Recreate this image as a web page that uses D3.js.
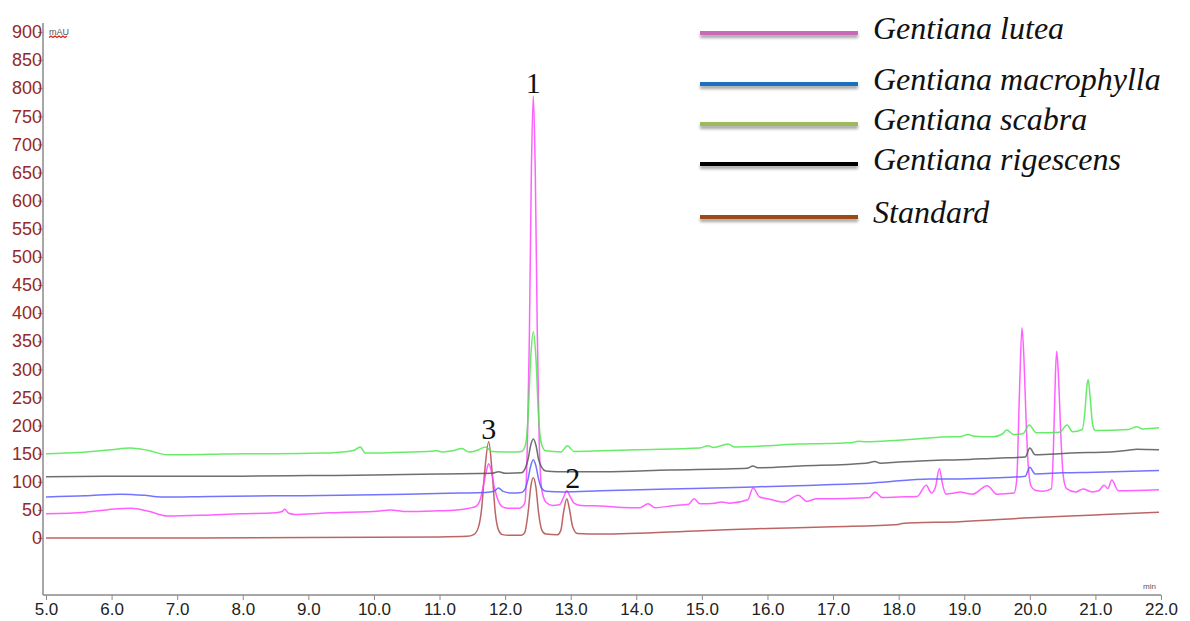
<!DOCTYPE html>
<html>
<head>
<meta charset="utf-8">
<script src="https://cdn.jsdelivr.net/npm/d3@7"></script>
<style>
body { margin: 0; background: #fff; }
</style>
</head>
<body>
<script>
// retention time (min) / absorbance (mAU)
const luteaPts = [[5.0,43],[5.6,46],[6.1,52],[6.3,53],[6.55,48],[6.85,39],[7.5,41],[7.96,43],[8.5,45],[8.6,47],[8.64,51],[8.7,44],[8.8,42],[9.2,44],[9.6,46],[10.0,47],[10.25,50],[10.5,47],[10.9,48],[11.27,50],[11.45,53],[11.55,56],[11.62,68],[11.68,100],[11.72,122],[11.75,132],[11.79,118],[11.84,88],[11.9,65],[11.97,55],[12.05,53],[12.22,53],[12.3,62],[12.34,170],[12.37,360],[12.40,650],[12.43,786],[12.46,650],[12.49,370],[12.52,170],[12.56,85],[12.62,64],[12.72,58],[12.83,59],[12.89,72],[12.94,84],[12.99,74],[13.05,62],[13.15,58],[13.45,57],[13.9,54],[14.06,54],[14.18,61],[14.28,54],[14.6,58],[14.8,60],[14.88,70],[14.97,61],[15.2,62],[15.3,64],[15.42,62],[15.7,68],[15.78,89],[15.88,73],[16.0,70],[16.25,64],[16.47,76],[16.6,65],[16.75,70],[17.0,70],[17.4,71],[17.55,72],[17.64,82],[17.75,72],[18.0,73],[18.28,74],[18.42,94],[18.5,80],[18.56,90],[18.62,123],[18.67,95],[18.72,78],[18.85,80],[18.94,82],[19.05,79],[19.13,78],[19.35,93],[19.5,78],[19.76,80],[19.8,103],[19.84,250],[19.88,374],[19.91,320],[19.94,220],[19.97,139],[20.02,92],[20.08,85],[20.2,83],[20.33,88],[20.36,160],[20.39,290],[20.41,332],[20.44,280],[20.47,190],[20.51,110],[20.56,88],[20.7,82],[20.81,87],[20.95,82],[21.05,84],[21.13,94],[21.19,88],[21.25,103],[21.35,84],[21.97,86]];

const macrophyllaPts = [[5.0,73],[5.6,75],[6.13,78],[6.5,76],[6.75,73],[7.5,74],[8.5,75],[9.5,76],[10.5,78],[11.3,80],[11.7,81],[11.83,83],[11.9,89],[11.97,83],[12.1,80],[12.25,81],[12.3,86],[12.35,105],[12.39,128],[12.43,139],[12.47,128],[12.51,105],[12.56,88],[12.62,83],[12.9,82],[13.45,84],[14.5,87],[15.5,90],[16.45,93],[17.0,95],[17.61,98],[18.48,105],[18.93,105],[19.5,107],[19.93,110],[20.0,126],[20.08,114],[20.5,116],[21.0,117],[21.97,120]];

const scabraPts = [[5.0,150],[5.5,152],[6.0,157],[6.28,160],[6.55,156],[6.85,148],[7.5,149],[8.0,150],[8.5,150],[9.22,151],[9.6,154],[9.7,156],[9.79,162],[9.87,151],[10.3,152],[10.8,154],[10.96,155],[11.05,153],[11.2,155],[11.34,159],[11.45,153],[11.6,157],[11.7,162],[11.8,154],[12.1,153],[12.25,154],[12.31,165],[12.35,215],[12.39,320],[12.43,367],[12.47,320],[12.51,215],[12.56,165],[12.62,155],[12.85,153],[12.95,164],[13.05,154],[13.45,155],[14.0,157],[14.97,160],[15.09,164],[15.18,161],[15.4,167],[15.5,162],[16.0,164],[16.45,167],[16.9,168],[17.3,170],[17.38,172],[17.5,171],[18.0,174],[18.28,176],[18.8,180],[18.93,180],[19.06,184],[19.15,181],[19.44,180],[19.58,185],[19.65,192],[19.75,184],[19.9,186],[19.99,201],[20.1,187],[20.45,188],[20.57,201],[20.65,189],[20.8,193],[20.84,225],[20.87,270],[20.89,282],[20.92,250],[20.96,200],[21.0,191],[21.5,193],[21.63,198],[21.72,194],[21.97,196]];

const rigescensPts = [[5.0,109],[6.0,110],[7.0,110],[8.0,110],[9.0,111],[10.0,112],[11.0,114],[11.8,115],[11.9,118],[12.0,115],[12.25,116],[12.3,122],[12.35,140],[12.39,165],[12.43,176],[12.47,165],[12.51,140],[12.56,125],[12.62,119],[12.8,118],[13.5,118],[14.5,121],[15.69,124],[15.78,128],[15.85,125],[16.5,128],[17.5,133],[17.64,136],[17.72,133],[18.0,135],[18.5,138],[18.93,139],[19.5,142],[19.93,144],[20.0,160],[20.08,148],[20.3,149],[20.89,152],[21.0,152],[21.5,156],[21.63,158],[21.97,157]];

const standardPts = [[5.0,0],[7.0,0],[9.0,1],[11.0,2],[11.42,3],[11.52,6],[11.59,18],[11.64,50],[11.69,120],[11.75,171],[11.8,120],[11.85,45],[11.9,14],[11.96,6],[12.05,5],[12.25,5],[12.3,10],[12.35,45],[12.39,90],[12.43,107],[12.47,90],[12.51,45],[12.56,14],[12.62,7],[12.8,6],[12.85,14],[12.89,45],[12.94,70],[12.98,52],[13.03,20],[13.1,8],[13.45,7],[15.0,13],[16.0,17],[17.0,20],[18.0,24],[18.05,26],[18.93,29],[20.0,36],[21.0,41],[21.97,46]];

const seriesNames = ["Gentiana lutea", "Gentiana macrophylla", "Gentiana scabra", "Gentiana rigescens", "Standard"];
const traceColors = ["#ff44ff", "#5a5aff", "#4ee84e", "#555555", "#b04a4a"];
const legendColors = ["#c86bb8", "#1a70c0", "#9bbb59", "#000000", "#9b4a12"];

const xTicks = d3.range(5, 22.01, 1);
const yTicks = d3.range(0, 901, 50);
const peakNames = ["1", "2", "3"];
const peakTimes = [12.43, 12.94, 11.75];
const peakValues = [786, 84, 171];

const width = 1190, height = 621;
const axisX = 43, axisBottom = 595, axisTop = 23;

const svg = d3.select("body").append("svg")
    .attr("width", width)
    .attr("height", height)
    .attr("xmlns", "http://www.w3.org/2000/svg");

const x = d3.scaleLinear().domain([5, 22]).range([46, 1161]);
const y = d3.scaleLinear().domain([0, 900]).range([538, 32]);

// y axis
const yAxisG = svg.append("g").attr("transform", `translate(${axisX},0)`);
yAxisG.call(d3.axisLeft(y).tickValues(d3.range(-100, 915, 12.5)).tickSize(3).tickFormat(""));
yAxisG.call(d3.axisLeft(y).tickValues(yTicks).tickSize(5).tickPadding(-4).tickFormat(d3.format("d")));
yAxisG.selectAll(".domain").remove();
yAxisG.selectAll("line").attr("stroke", "#8a8a8a");
yAxisG.selectAll("text")
    .attr("fill", "#962828")
    .style("font-family", "'Liberation Sans', Arial, sans-serif")
    .style("font-size", "18px");
svg.append("line")
    .attr("x1", axisX).attr("x2", axisX)
    .attr("y1", axisTop).attr("y2", axisBottom)
    .attr("stroke", "#8a8a8a").attr("stroke-width", 1.5);

// x axis
const xAxisG = svg.append("g").attr("transform", `translate(0,${axisBottom})`);
xAxisG.call(d3.axisBottom(x).tickValues(d3.range(5.5, 22, 1)).tickSize(3).tickFormat(""));
xAxisG.call(d3.axisBottom(x).tickValues(xTicks).tickSize(5).tickPadding(3).tickFormat(d3.format(".1f")));
xAxisG.selectAll(".domain").remove();
xAxisG.selectAll("line").attr("stroke", "#8a8a8a");
xAxisG.selectAll("text")
    .attr("fill", "#222")
    .style("font-family", "'Liberation Sans', Arial, sans-serif")
    .style("font-size", "17px");
svg.append("line")
    .attr("x1", axisX).attr("x2", x(22))
    .attr("y1", axisBottom).attr("y2", axisBottom)
    .attr("stroke", "#8a8a8a").attr("stroke-width", 1.5);

// unit labels
svg.append("text").attr("x", 49).attr("y", 35).text("mAU")
    .style("font-family", "'Liberation Sans', Arial, sans-serif")
    .style("font-size", "9px").attr("fill", "#555");
svg.append("path")
    .attr("d", "M49,37.5 l2,-1.5 l2,1.5 l2,-1.5 l2,1.5 l2,-1.5 l2,1.5 l2,-1.5 l2,1.5 l2,-1.5")
    .attr("fill", "none").attr("stroke", "#e02020").attr("stroke-width", 1.2);
svg.append("text").attr("x", 1143).attr("y", 589).text("min")
    .style("font-family", "'Liberation Sans', Arial, sans-serif")
    .style("font-size", "8px").attr("fill", "#555");

// traces
const line = d3.line()
    .x(d => x(d[0]))
    .y(d => y(d[1]))
    .curve(d3.curveMonotoneX);

const traces = [standardPts, luteaPts, macrophyllaPts, rigescensPts, scabraPts];
const traceColorOrder = [traceColors[4], traceColors[0], traceColors[1], traceColors[3], traceColors[2]];
svg.append("g").selectAll("path")
    .data(traces)
    .join("path")
    .attr("d", line)
    .attr("fill", "none")
    .attr("stroke", (d, i) => traceColorOrder[i])
    .attr("stroke-width", 1.5)
    .attr("stroke-opacity", 0.85);

// peak numbers
svg.append("g").selectAll("text")
    .data(peakNames)
    .join("text")
    .attr("x", (d, i) => x(peakTimes[i]) + (d === "2" ? 6 : 0))
    .attr("y", (d, i) => y(peakValues[i]) - 3)
    .attr("text-anchor", "middle")
    .style("font-family", "'Liberation Serif', 'Times New Roman', serif")
    .style("font-size", "30px")
    .attr("fill", "#111")
    .text(d => d);

// legend
const defs = svg.append("defs");
const shadow = defs.append("filter").attr("id", "shadow")
    .attr("filterUnits", "userSpaceOnUse")
    .attr("x", 680).attr("y", 0).attr("width", 200).attr("height", 240);
shadow.append("feDropShadow")
    .attr("dx", 0).attr("dy", 3).attr("stdDeviation", 1.5)
    .attr("flood-color", "#000").attr("flood-opacity", 0.35);

const legendRowY = [33, 84, 124, 164, 217];
const legend = svg.append("g");
legend.selectAll("rect")
    .data(seriesNames)
    .join("rect")
    .attr("x", 700).attr("width", 158)
    .attr("y", (d, i) => legendRowY[i] - 2).attr("height", 4)
    .attr("fill", (d, i) => legendColors[i])
    .attr("filter", "url(#shadow)");
legend.selectAll("text")
    .data(seriesNames)
    .join("text")
    .attr("x", 873)
    .attr("y", (d, i) => legendRowY[i] + 6)
    .style("font-family", "'Liberation Serif', 'Times New Roman', serif")
    .style("font-style", "italic")
    .style("font-size", "32px")
    .attr("fill", "#111")
    .text(d => d);
</script>
</body>
</html>
